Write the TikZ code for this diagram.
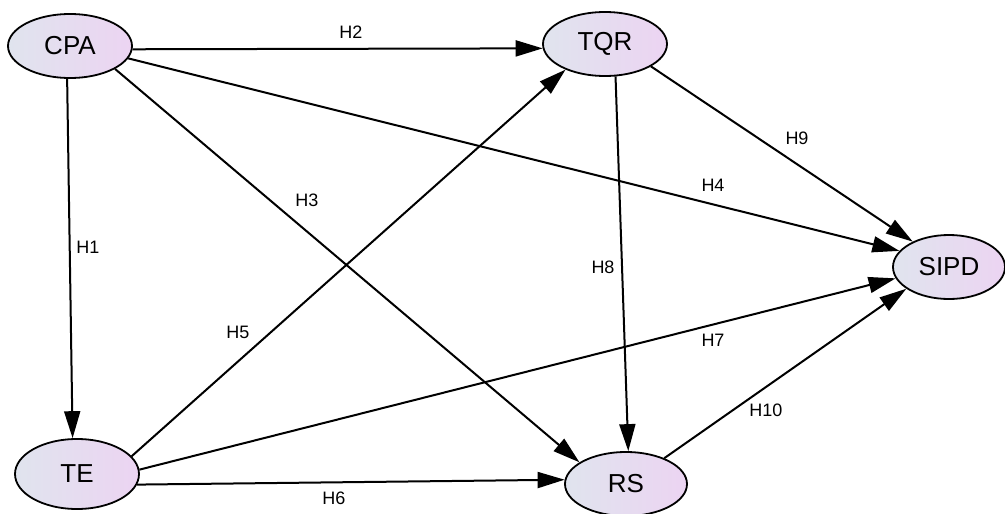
\documentclass[tikz,border=0pt]{standalone}
\usepackage{fontspec}
\setmainfont{Liberation Sans}
\usetikzlibrary{shapes.geometric,arrows.meta}
\definecolor{lgrey}{HTML}{E0E4EE}
\definecolor{lpink}{HTML}{ECD4F2}
\tikzset{
  latent/.style={ellipse, draw=black, line width=1.8pt, inner sep=0pt,
    minimum width=124pt, minimum height=64pt,
    left color=lgrey, right color=lpink,
    font=\fontsize{26}{28}\selectfont},
  path/.style={draw=black, line width=2pt, -{Triangle[length=27pt,width=16pt]}},
  hlabel/.style={font=\fontsize{18}{20}\selectfont, inner sep=0pt}
}
\begin{document}
\begin{tikzpicture}[x=1pt,y=-1pt]
\useasboundingbox (0,0) rectangle (1005,514);
\node[latent] (CPA) at (70,46) {CPA};
\node[latent] (TQR) at (605,44) {TQR};
\node[latent, minimum width=112pt] (SIPD) at (949,267) {SIPD};
\node[latent, minimum height=70pt] (TE) at (77,474) {TE};
\node[latent, minimum width=122pt] (RS) at (626,484) {RS};

\draw[path] (CPA.-95) -- (TE.97);
\draw[path] (CPA.-3) -- (TQR.184);
\draw[path] (CPA.-27.5) -- (RS.155);
\draw[path] (CPA.-12) -- (SIPD.162);
\draw[path] (TE.18) -- (TQR.-147);
\draw[path] (TE.-10) -- (RS.176);
\draw[path] (TE.4) -- (SIPD.-168);
\draw[path] (TQR.-72) -- (RS.86);
\draw[path] (TQR.-26) -- (SIPD.145);
\draw[path] (RS.34) -- (SIPD.-153);

\node[hlabel] (l1) at (88,247) {H1};
\node[hlabel] (l2) at (351,32) {H2};
\node[hlabel] (l3) at (307,200) {H3};
\node[hlabel] (l4) at (713,185) {H4};
\node[hlabel] (l5) at (238,332) {H5};
\node[hlabel] (l6) at (334,498) {H6};
\node[hlabel] (l7) at (713,340) {H7};
\node[hlabel] (l8) at (603,267) {H8};
\node[hlabel] (l9) at (797,138) {H9};
\node[hlabel] (l10) at (766,410) {H10};
\end{tikzpicture}
\end{document}
